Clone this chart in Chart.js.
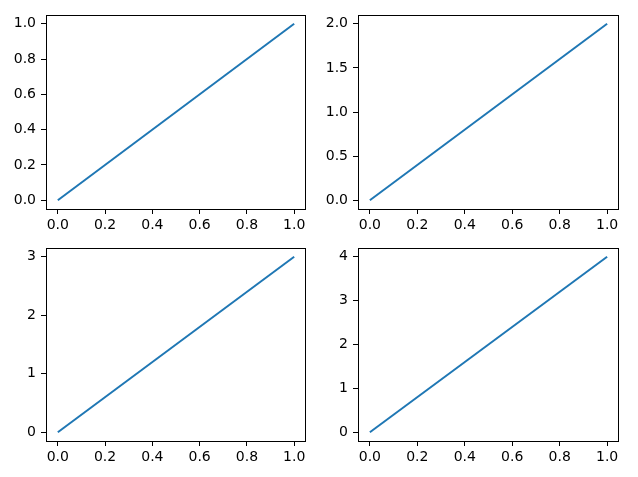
<!DOCTYPE html>
<html>
<head>
<meta charset="utf-8">
<script src="https://cdn.jsdelivr.net/npm/chart.js@4"></script>
<style>
  html, body { margin: 0; padding: 0; background: #fff; }
  #fig { position: relative; width: 638px; height: 477px; overflow: hidden; }
  canvas { position: absolute; }
</style>
</head>
<body>
<div id="fig">
  <canvas id="ax1" width="316" height="234" style="left:0px;top:5px;width:316px;height:234px"></canvas>
  <canvas id="ax2" width="317" height="234" style="left:312px;top:5px;width:317px;height:234px"></canvas>
  <canvas id="ax3" width="316" height="233" style="left:0px;top:238px;width:316px;height:233px"></canvas>
  <canvas id="ax4" width="317" height="233" style="left:312px;top:238px;width:317px;height:233px"></canvas>
</div>
<script>
// data
const xValues = [0, 1];
const series1 = [0, 1];
const series2 = [0, 2];
const series3 = [0, 3];
const series4 = [0, 4];

// tick labels
const xTicks = [0, 0.2, 0.4, 0.6, 0.8, 1.0];
const yTicks1 = [0, 0.2, 0.4, 0.6, 0.8, 1.0];
const yTicks2 = [0, 0.5, 1.0, 1.5, 2.0];
const yTicks3 = [0, 1, 2, 3];
const yTicks4 = [0, 1, 2, 3, 4];

const LINE_COLOR = "#1f77b4";
const FONT = { family: "DejaVu Sans", size: 14 };

// matplotlib style closed frame round the plot area
const boxPlugin = {
  id: "box",
  afterDatasetsDraw(chart) {
    const a = chart.chartArea;
    const ctx = chart.ctx;
    ctx.save();
    ctx.strokeStyle = "#000";
    ctx.lineWidth = 1;
    ctx.strokeRect(Math.round(a.left) + 0.5, Math.round(a.top) + 0.5,
      Math.round(a.right - a.left) - 1, Math.round(a.bottom - a.top));
    ctx.restore();
  },
};

function axisGrid() {
  return { display: true, drawOnChartArea: false, drawTicks: true, tickLength: 5, tickColor: "#000", tickWidth: 1 };
}

function renderAxes(id, yValues, yTicks, decimals) {
  const ymax = Math.max(...yValues);
  const ymin = Math.min(...yValues);
  const pad = (ymax - ymin) * 0.05;
  return new Chart(document.getElementById(id), {
    type: "scatter",
    data: {
      datasets: [{
        data: xValues.map((x, i) => ({ x, y: yValues[i] })),
        showLine: true,
        borderColor: LINE_COLOR,
        borderWidth: 2,
        pointRadius: 0,
        fill: false,
        tension: 0,
      }],
    },
    options: {
      responsive: false,
      animation: false,
      devicePixelRatio: 1,
      layout: { padding: { left: 0, right: 10, top: 10, bottom: 0 } },
      plugins: { legend: { display: false }, tooltip: { enabled: false } },
      scales: {
        x: {
          type: "linear",
          min: -0.05,
          max: 1.05,
          afterBuildTicks: (s) => { s.ticks = xTicks.map((v) => ({ value: v })); },
          afterFit: (s) => { s.height = 30; s.paddingLeft = 0; s.paddingRight = 0; },
          grid: axisGrid(),
          border: { display: false },
          ticks: { color: "#000", font: FONT, padding: 3, maxRotation: 0, callback: (v) => Number(v).toFixed(1) },
        },
        y: {
          type: "linear",
          min: ymin - pad,
          max: ymax + pad,
          afterBuildTicks: (s) => { s.ticks = yTicks.map((v) => ({ value: v })); },
          afterFit: (s) => { s.width = 46; s.paddingTop = 0; s.paddingBottom = 0; },
          grid: axisGrid(),
          border: { display: false },
          ticks: { color: "#000", font: FONT, padding: 5, callback: (v) => Number(v).toFixed(decimals) },
        },
      },
    },
    plugins: [boxPlugin],
  });
}

renderAxes("ax1", series1, yTicks1, 1);
renderAxes("ax2", series2, yTicks2, 1);
renderAxes("ax3", series3, yTicks3, 0);
renderAxes("ax4", series4, yTicks4, 0);
</script>
</body>
</html>
